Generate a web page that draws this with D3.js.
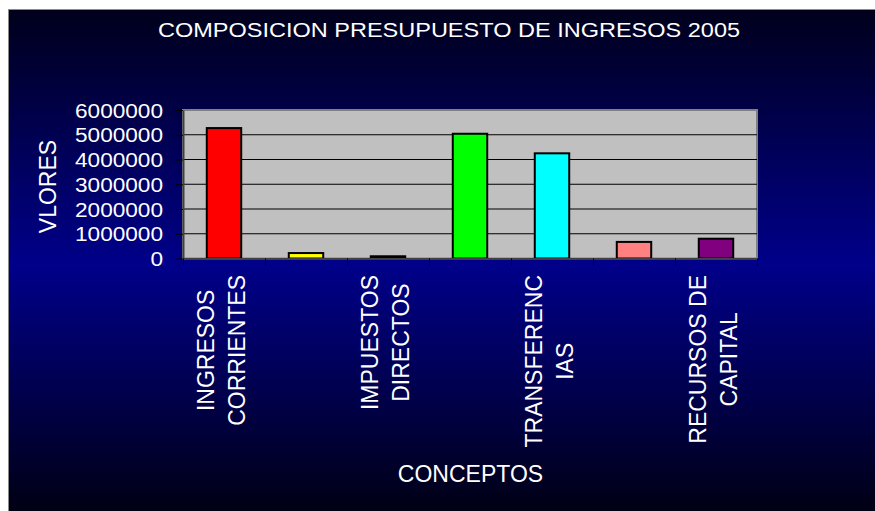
<!DOCTYPE html>
<html>
<head>
<meta charset="utf-8">
<script src="https://cdn.jsdelivr.net/npm/d3@7"></script>
<style>
body { margin: 0; background: #fff; }
text { font-family: "Liberation Sans", Arial, sans-serif; fill: #fff; }
</style>
</head>
<body>
<svg id="chart"></svg>
<script>
// data
var categories = ["INGRESOS CORRIENTES", "INGRESOS TRIBUTARIOS", "IMPUESTOS DIRECTOS", "TRANSFERENCIAS",
	"SISTEMA GENERAL DE PARTICIPACIONES", "OTRAS TRANSFERENCIAS", "RECURSOS DE CAPITAL"];
var values = [5270000, 220000, 90000, 5040000, 4250000, 670000, 800000];
var barColors = ["#ff0000", "#ffff00", "#000080", "#00ff00", "#00ffff", "#ff8080", "#800080"];
// excel only printed every second label, wrapped like this
var tickLabels = [["INGRESOS", "CORRIENTES"], null, ["IMPUESTOS", "DIRECTOS"], null,
	["TRANSFERENC", "IAS"], null, ["RECURSOS DE", "CAPITAL"]];
var yTicks = [0, 1000000, 2000000, 3000000, 4000000, 5000000, 6000000];
var title = "COMPOSICION PRESUPUESTO DE INGRESOS 2005";
var yTitle = "VLORES";
var xTitle = "CONCEPTOS";

var svgWidth = 875, svgHeight = 511;
var plot = { left: 183, right: 757, top: 110, bottom: 258.5 };

var svg = d3.select("#chart")
	.attr("width", svgWidth)
	.attr("height", svgHeight);

var grad = svg.append("defs").append("linearGradient")
	.attr("id", "bg")
	.attr("x1", 0).attr("y1", 0).attr("x2", 0).attr("y2", 1);
grad.append("stop").attr("offset", "0%").attr("stop-color", "#00001c");
grad.append("stop").attr("offset", "50%").attr("stop-color", "#00008a");
grad.append("stop").attr("offset", "100%").attr("stop-color", "#000010");

svg.append("rect")
	.attr("x", 8.5).attr("y", 9.5)
	.attr("width", svgWidth).attr("height", svgHeight)
	.attr("fill", "url(#bg)")
	.attr("stroke", "#8a8a8a");

// text helper, sx stretches glyphs sideways on screen
function addText(x, y, str, size, sx, rot, anchor) {
	var t = "translate(" + x + "," + y + ") scale(" + sx + ",1)";
	if (rot) t += " rotate(-90)";
	return svg.append("text")
		.attr("transform", t)
		.attr("font-size", size)
		.attr("text-anchor", anchor || "middle")
		.text(str);
}

var x = d3.scaleBand()
	.domain(categories)
	.range([plot.left, plot.right])
	.paddingInner(0.58)
	.paddingOuter(0.29);

var y = d3.scaleLinear()
	.domain([0, 6000000])
	.range([plot.bottom, plot.top]);

// tick marks sit between categories
var xEdges = d3.scaleLinear()
	.domain([0, categories.length])
	.range([plot.left, plot.right]);

svg.append("rect")
	.attr("x", plot.left)
	.attr("y", plot.top)
	.attr("width", plot.right - plot.left)
	.attr("height", plot.bottom - plot.top)
	.attr("fill", "#c0c0c0")
	.attr("stroke", "#808080")
	.attr("stroke-width", 2);

svg.append("g")
	.selectAll("line")
	.data(yTicks.filter(function(d) { return d > 0 && d < 6000000; }))
	.enter().append("line")
	.attr("x1", plot.left)
	.attr("x2", plot.right)
	.attr("y1", function(d) { return y(d); })
	.attr("y2", function(d) { return y(d); })
	.attr("stroke", "#000")
	.attr("stroke-width", 1);

svg.append("g")
	.selectAll("rect")
	.data(values)
	.enter().append("rect")
	.attr("x", function(d, i) { return x(categories[i]); })
	.attr("y", function(d) { return y(d); })
	.attr("width", x.bandwidth())
	.attr("height", function(d) { return plot.bottom - y(d); })
	.attr("fill", function(d, i) { return barColors[i]; })
	.attr("stroke", "#000")
	.attr("stroke-width", 2);

var yAxis = svg.append("g")
	.attr("transform", "translate(" + plot.left + ",0)")
	.call(d3.axisLeft(y).tickValues(yTicks).tickSize(7).tickSizeOuter(0).tickFormat(d3.format("d")));
yAxis.select(".domain").attr("stroke", "#404040").attr("stroke-width", 2);
yAxis.selectAll(".tick line").attr("stroke", "#000");
yAxis.selectAll(".tick text")
	.attr("x", -20 / 1.16)
	.attr("dy", "0.36em")
	.attr("transform", "scale(1.16,1)")
	.attr("font-family", null)
	.attr("font-size", 19.5)
	.attr("fill", "#fff");

var xAxis = svg.append("g")
	.attr("transform", "translate(0," + plot.bottom + ")")
	.call(d3.axisBottom(xEdges).ticks(categories.length).tickSize(7).tickSizeOuter(0).tickFormat(""));
xAxis.select(".domain").attr("stroke", "#404040").attr("stroke-width", 2);
xAxis.selectAll(".tick line").attr("stroke", "#000");

// wrapped, rotated category labels, tops lined up at 275
var labelSize = 23;
tickLabels.forEach(function(lines, i) {
	if (!lines) return;
	var cx = x(categories[i]) + x.bandwidth() / 2;
	var g = svg.append("g");
	var texts = lines.map(function(s, j) {
		return g.append("text")
			.attr("font-size", labelSize)
			.attr("text-anchor", "middle")
			.text(s);
	});
	var maxLen = d3.max(texts, function(t) { return t.node().getComputedTextLength(); });
	var cy = 275 + maxLen / 2;
	texts.forEach(function(t, j) {
		var off = -18.5 + j * 31.5;
		t.attr("transform", "translate(" + cx + "," + cy + ") rotate(-90)")
			.attr("y", off + 0.358 * labelSize);
	});
});

addText(449, 37, title, 21, 1.12, false);
addText(470.5, 482, xTitle, 23, 1, false);
addText(56, 186.5, yTitle, 23, 1, true);
</script>
</body>
</html>
